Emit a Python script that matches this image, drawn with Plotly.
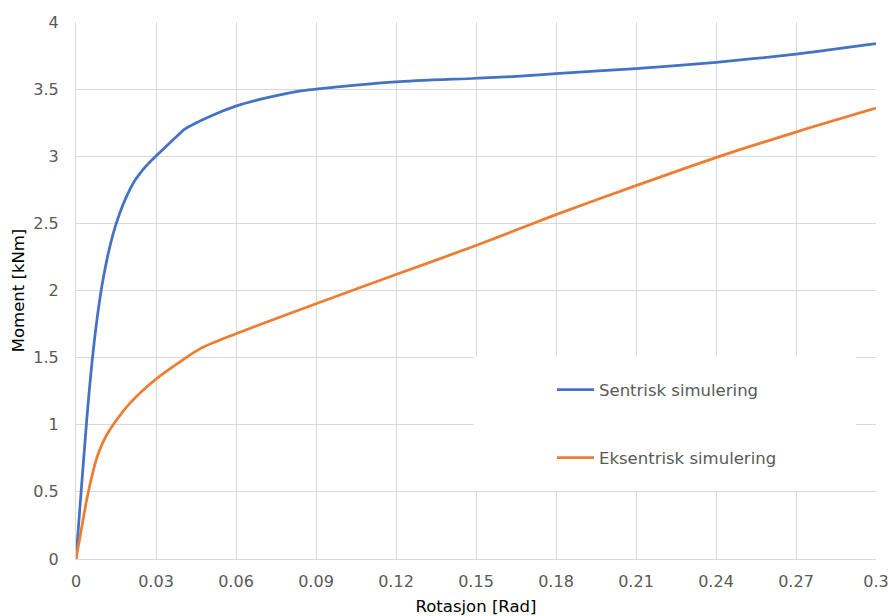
import plotly.graph_objects as go

# Rotation [rad] vs. moment [kNm] for the two simulations
sentrisk_rot = [0, 0.002, 0.004, 0.005, 0.006, 0.007, 0.008, 0.009, 0.010, 0.012,
                0.014, 0.016, 0.019, 0.022, 0.024, 0.026, 0.028, 0.030, 0.0387, 0.0406,
                0.0506, 0.0602, 0.0693, 0.0843, 0.09, 0.105, 0.12, 0.15, 0.165, 0.18,
                0.21, 0.24, 0.27, 0.2816, 0.30]
sentrisk_mom = [0, 0.52, 1.03, 1.26, 1.465, 1.645, 1.805, 1.945, 2.067, 2.267,
                2.427, 2.553, 2.703, 2.817, 2.873, 2.921, 2.963, 3.002, 3.165, 3.20,
                3.30, 3.375, 3.425, 3.487, 3.50, 3.53, 3.554, 3.581, 3.595, 3.616,
                3.653, 3.70, 3.76, 3.79, 3.839]

eksentrisk_rot = [0, 0.002, 0.004, 0.006, 0.008, 0.010, 0.012, 0.014, 0.017, 0.020,
                  0.025, 0.030, 0.038, 0.0466, 0.060, 0.0693, 0.09, 0.12, 0.15,
                  0.18, 0.21, 0.24, 0.27, 0.30]
eksentrisk_mom = [0, 0.22, 0.44, 0.62, 0.765, 0.865, 0.94, 1.002, 1.083, 1.155,
                  1.255, 1.34, 1.455, 1.567, 1.678, 1.748, 1.901, 2.119, 2.335,
                  2.565, 2.781, 2.99, 3.18, 3.358]

x_ticks = [0, 0.03, 0.06, 0.09, 0.12, 0.15, 0.18, 0.21, 0.24, 0.27, 0.3]
x_labels = ["0", "0.03", "0.06", "0.09", "0.12", "0.15", "0.18", "0.21", "0.24", "0.27", "0.3"]
y_ticks = [0, 0.5, 1, 1.5, 2, 2.5, 3, 3.5, 4]
y_labels = ["0", "0.5", "1", "1.5", "2", "2.5", "3", "3.5", "4"]

FONT = "DejaVu Sans"
TXT = "#595959"
GRID = "#d9d9d9"

fig = go.Figure()
fig.add_trace(go.Scatter(
    x=sentrisk_rot, y=sentrisk_mom, mode="lines", name="Sentrisk simulering",
    line=dict(color="#4472C4", width=2.75, shape="spline", smoothing=0.8),
    legend="legend",
))
fig.add_trace(go.Scatter(
    x=eksentrisk_rot, y=eksentrisk_mom, mode="lines", name="Eksentrisk simulering",
    line=dict(color="#ED7D31", width=2.75, shape="spline", smoothing=0.8),
    legend="legend2",
))

# white panel behind the legend entries
fig.add_shape(type="rect", xref="paper", yref="paper",
              x0=0.497, x1=0.975, y0=0.127, y1=0.377,
              fillcolor="white", line=dict(width=0), layer="above")

legend_style = dict(
    bgcolor="rgba(0,0,0,0)", borderwidth=0,
    font=dict(family=FONT, size=16.5, color=TXT),
    xanchor="left", yanchor="middle", itemwidth=37,
)

fig.update_layout(
    width=889, height=616,
    margin=dict(l=76, r=13, t=22, b=57),
    paper_bgcolor="white", plot_bgcolor="white",
    font=dict(family=FONT, size=16, color=TXT),
    showlegend=True,
    legend=dict(x=0.595, y=(559.3 - 390) / 537.6, **legend_style),
    legend2=dict(x=0.595, y=(559.3 - 458) / 537.6, **legend_style),
    xaxis=dict(
        range=[0, 0.3], tickvals=x_ticks, ticktext=x_labels,
        showgrid=True, gridcolor=GRID, gridwidth=1,
        zeroline=False, showline=True, linecolor=GRID, linewidth=1,
        ticks="", ticklabelstandoff=8, automargin=False,
        tickfont=dict(family=FONT, size=16, color=TXT),
        title=dict(text="Rotasjon [Rad]", font=dict(family=FONT, size=16.5, color="#000000"),
                   standoff=12),
    ),
    yaxis=dict(
        range=[0, 4], tickvals=y_ticks, ticktext=y_labels,
        showgrid=True, gridcolor=GRID, gridwidth=1,
        zeroline=False, showline=True, linecolor=GRID, linewidth=1,
        ticks="", ticklabelstandoff=13, automargin=False,
        tickfont=dict(family=FONT, size=16, color=TXT),
        title=dict(text="Moment [kNm]", font=dict(family=FONT, size=16.5, color="#000000"),
                   standoff=4),
    ),
)

fig.write_html("out.html")
